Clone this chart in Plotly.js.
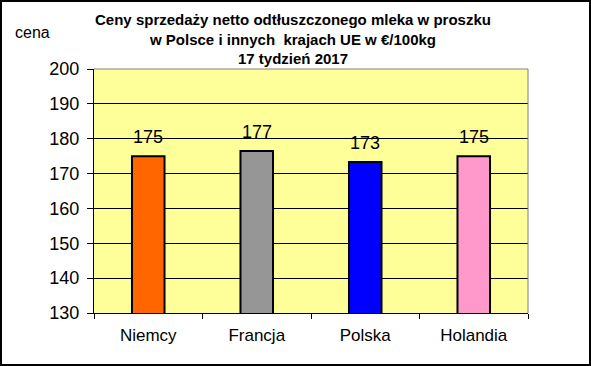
<!DOCTYPE html>
<html>
<head>
<meta charset="utf-8">
<script src="https://cdn.plot.ly/plotly-3.0.1.min.js"></script>
<style>
html,body{margin:0;padding:0;background:#fff;}
#chart{width:591px;height:366px;}
</style>
</head>
<body>
<div id="chart"></div>
<script>
const categories = ["Niemcy", "Francja", "Polska", "Holandia"];
const values = [175.0, 176.5, 173.3, 175.0];
const labels = ["175", "177", "173", "175"];
const barColors = ["#FF6600", "#969696", "#0000FF", "#FF99CC"];
const yTicks = [130, 140, 150, 160, 170, 180, 190, 200];

const W = 591, H = 366;
const m = {l: 94, r: 63, t: 69, b: 53};
const pw = W - m.l - m.r, ph = H - m.t - m.b;
const px = v => (v - m.l) / pw;
const py = v => (H - m.b - v) / ph;
const FONT = "Liberation Sans, Arial, sans-serif";

const trace = {
  type: "bar",
  x: categories,
  y: values,
  width: 0.30,
  marker: {color: barColors, line: {color: "#000", width: 2}},
  hoverinfo: "skip"
};

const annotations = categories.map((c, i) => ({
  x: c, y: values[i], xref: "x", yref: "y",
  text: labels[i], showarrow: false, yanchor: "bottom", yshift: 7,
  font: {family: FONT, size: 18, color: "#000"}
}));
annotations.push({
  text: "cena", xref: "paper", yref: "paper", x: px(13), y: py(32),
  xanchor: "left", yanchor: "middle", showarrow: false,
  font: {family: FONT, size: 16, color: "#000"}
});

const layout = {
  width: W, height: H,
  margin: m,
  paper_bgcolor: "#fff",
  plot_bgcolor: "#FFFF99",
  showlegend: false,
  title: {
    text: "<b>Ceny sprzedaży netto odtłuszczonego mleka w proszku<br>w Polsce i innych  krajach UE w €/100kg<br>17 tydzień 2017</b>",
    x: 293 / W, xref: "container", xanchor: "center",
    y: 1 - 25 / H, yref: "container", yanchor: "top",
    font: {family: FONT, size: 15, color: "#000"}
  },
  xaxis: {
    type: "category",
    tickson: "boundaries",
    ticks: "outside", ticklen: 5, tickcolor: "#000", tickwidth: 1,
    ticklabelstandoff: 7,
    showline: true, linecolor: "#000", linewidth: 1,
    showgrid: false,
    tickfont: {family: FONT, size: 17, color: "#000"},
    fixedrange: true
  },
  yaxis: {
    range: [130, 200],
    tickvals: yTicks,
    ticks: "outside", ticklen: 6, tickcolor: "#000", tickwidth: 1,
    ticklabelstandoff: 4,
    showline: true, linecolor: "#000", linewidth: 1,
    showgrid: true, gridcolor: "#000", gridwidth: 1,
    zeroline: false,
    tickfont: {family: FONT, size: 18, color: "#000"},
    fixedrange: true
  },
  annotations: annotations,
  shapes: [
    {type: "line", xref: "paper", yref: "paper", x0: 0, x1: 1, y0: 1, y1: 1, line: {color: "#808080", width: 1}},
    {type: "line", xref: "paper", yref: "paper", x0: 1, x1: 1, y0: 0, y1: 1, line: {color: "#808080", width: 1}},
    {type: "rect", xref: "paper", yref: "paper", x0: px(1), x1: px(590), y0: py(365), y1: py(1), line: {color: "#000", width: 2}, layer: "above"}
  ]
};

Plotly.newPlot("chart", [trace], layout, {displayModeBar: false, staticPlot: true});
</script>
</body>
</html>
